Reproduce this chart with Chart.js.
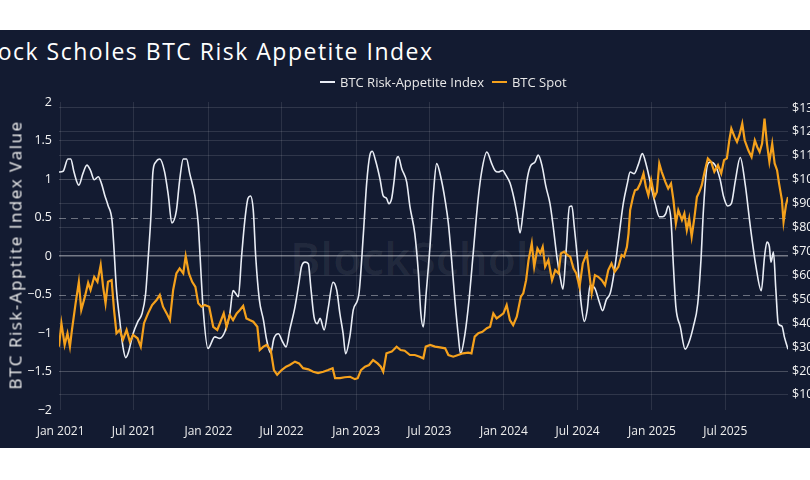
<!DOCTYPE html>
<html lang="en">
<head>
    <meta charset="UTF-8">
    <title>BTC Risk Appetite Index</title>
    <style>
        body {
            margin: 0;
            width: 810px;
            height: 480px;
            background: #ffffff;
            overflow: hidden;
            font-family: 'Open Sans', sans-serif;
        }
        .panel {
            position: absolute;
            top: 30px;
            left: 0;
            width: 810px;
            height: 418px;
            background: #131b31;
            overflow: hidden;
        }
        .title {
            position: absolute;
            top: 5px;
            left: -26px;
            margin: 0;
            font-size: 23px;
            font-weight: 500;
            letter-spacing: 1.5px;
            color: #ffffff;
            white-space: nowrap;
        }
        .ytitle {
            position: absolute;
            left: 15px;
            top: 225px;
            transform: translate(-50%, -50%) rotate(-90deg);
            font-size: 17px;
            letter-spacing: 1.5px;
            color: #eeeeee;
            white-space: nowrap;
        }
        .legend {
            position: absolute;
            top: 43px;
            left: 320px;
            display: flex;
            gap: 8px;
            font-size: 13px;
            color: #e8e8e8;
            white-space: nowrap;
        }
        .legend span.item {
            display: flex;
            align-items: center;
        }
        .legend span.swatch {
            display: inline-block;
            width: 15px;
            height: 2px;
            margin-right: 5px;
        }
        .watermark {
            position: absolute;
            top: 196px;
            left: 290px;
            font-size: 46px;
            font-weight: 600;
            color: rgba(255, 255, 255, 0.07);
            white-space: nowrap;
        }
        canvas {
            position: absolute;
            top: 0;
            left: 0;
        }
    </style>
</head>
<body>
    <div class="panel">
        <h1 class="title">Block Scholes BTC Risk Appetite Index</h1>
        <div class="watermark">BlockScholes</div>
        <canvas id="chart" width="860" height="418"></canvas>
        <div class="ytitle">BTC Risk-Apptite Index Value</div>
        <div class="legend" id="legend"></div>
    </div>

    <script src="https://cdn.jsdelivr.net/npm/chart.js"></script>
    <script>
        // BTC Risk-Appetite Index (left axis)
        const idxDates = [
            '2020-12-28','2021-01-07','2021-01-19','2021-01-26','2021-02-03','2021-02-15','2021-02-25','2021-03-07',
            '2021-03-16','2021-03-25','2021-04-04','2021-04-12','2021-04-20','2021-04-28','2021-05-08','2021-05-13',
            '2021-05-19','2021-05-27','2021-06-04','2021-06-11','2021-06-17','2021-06-29','2021-07-11','2021-07-21',
            '2021-07-30','2021-08-05','2021-08-12','2021-08-17','2021-08-24','2021-09-03','2021-09-15','2021-09-24',
            '2021-10-03','2021-10-14','2021-10-22','2021-10-31','2021-11-08','2021-11-16','2021-11-29','2021-12-07',
            '2021-12-11','2021-12-19','2021-12-31','2022-01-17','2022-01-29','2022-02-11','2022-02-23','2022-03-03',
            '2022-03-10','2022-03-16','2022-03-24','2022-04-01','2022-04-09','2022-04-15','2022-04-22','2022-04-28',
            '2022-05-07','2022-05-17','2022-05-25','2022-06-04','2022-06-12','2022-06-23','2022-07-03','2022-07-12',
            '2022-07-21','2022-08-03','2022-08-13','2022-08-19','2022-08-28','2022-09-05','2022-09-11','2022-09-19',
            '2022-09-27','2022-10-04','2022-10-14','2022-10-24','2022-11-05','2022-11-14','2022-11-22','2022-11-30',
            '2022-12-06','2022-12-17','2022-12-25','2023-01-08','2023-01-19','2023-01-27','2023-02-04','2023-02-10',
            '2023-02-18','2023-03-01','2023-03-09','2023-03-17','2023-03-23','2023-03-30','2023-04-05','2023-04-11',
            '2023-04-15','2023-04-24','2023-05-06','2023-05-14','2023-05-26','2023-06-04','2023-06-10','2023-06-16',
            '2023-06-23','2023-07-03','2023-07-11','2023-07-19','2023-07-31','2023-08-09','2023-08-17','2023-08-25',
            '2023-09-02','2023-09-10','2023-09-16','2023-09-27','2023-10-07','2023-10-18','2023-10-29','2023-11-07',
            '2023-11-20','2023-12-02','2023-12-10','2023-12-18','2023-12-29','2024-01-06','2024-01-16','2024-01-26',
            '2024-02-03','2024-02-10','2024-02-18','2024-02-27','2024-03-06','2024-03-18','2024-03-26','2024-04-04',
            '2024-04-14','2024-04-24','2024-05-02','2024-05-11','2024-05-19','2024-05-26','2024-06-03','2024-06-11',
            '2024-06-17','2024-06-23','2024-07-01','2024-07-09','2024-07-18','2024-07-25','2024-08-01','2024-08-13',
            '2024-08-24','2024-09-01','2024-09-10','2024-09-20','2024-09-29','2024-10-10','2024-10-22','2024-11-01',
            '2024-11-08','2024-11-18','2024-11-29','2024-12-08','2024-12-19','2024-12-30','2025-01-09','2025-01-19',
            '2025-01-27','2025-02-04','2025-02-10','2025-02-17','2025-02-23','2025-03-01','2025-03-12','2025-03-24',
            '2025-04-03','2025-04-13','2025-04-24','2025-05-02','2025-05-08','2025-05-17','2025-05-25','2025-06-06',
            '2025-06-18','2025-06-27','2025-07-07','2025-07-16','2025-07-26','2025-08-07','2025-08-19','2025-09-01',
            '2025-09-15','2025-09-28','2025-10-06','2025-10-12','2025-10-18','2025-10-22','2025-10-28','2025-11-03',
            '2025-11-09','2025-11-18','2025-11-24','2025-12-03'
        ];
        const idxValues = [
            1.09, 1.10, 1.26, 1.26, 1.09, 0.92, 1.07, 1.18,
            1.11, 0.99, 1.03, 0.94, 0.79, 0.66, 0.46, 0.08,
            -0.44, -0.83, -1.18, -1.32, -1.26, -1.01, -0.85, -0.75,
            -0.49, -0.05, 0.51, 1.09, 1.22, 1.26, 1.09, 0.79,
            0.43, 0.59, 0.98, 1.26, 1.26, 1.07, 0.77, 0.42,
            0.05, -0.68, -1.20, -1.05, -1.07, -0.98, -0.75, -0.45,
            -0.49, -0.53, -0.01, 0.46, 0.75, 0.78, 0.59, -0.01,
            -0.57, -0.83, -1.09, -1.26, -1.07, -1.01, -1.11, -1.18,
            -0.96, -0.66, -0.34, -0.14, -0.08, -0.10, -0.40, -0.79,
            -0.88, -0.81, -0.96, -0.68, -0.34, -0.44, -0.75, -1.01,
            -1.27, -1.03, -0.70, -0.49, 0.29, 0.94, 1.31, 1.36,
            1.24, 1.00, 0.78, 0.75, 0.68, 0.75, 0.98, 1.26,
            1.29, 1.13, 0.96, 0.64, 0.29, -0.23, -0.75, -0.92,
            -0.49, 0.16, 0.81, 1.20, 0.98, 0.72, 0.42, -0.05,
            -0.57, -1.01, -1.27, -1.01, -0.57, 0.08, 0.72, 1.09,
            1.35, 1.20, 1.11, 1.09, 1.11, 1.05, 0.95, 0.75,
            0.53, 0.30, 0.59, 0.98, 1.16, 1.22, 1.31, 1.18,
            0.90, 0.68, 0.38, -0.01, -0.27, -0.43, 0.08, 0.64,
            0.65, 0.38, -0.05, -0.57, -0.85, -0.70, -0.38, -0.42,
            -0.60, -0.71, -0.57, -0.48, -0.23, 0.20, 0.68, 0.94,
            1.09, 1.07, 1.20, 1.33, 1.16, 0.90, 0.68, 0.51,
            0.51, 0.55, 0.65, 0.46, -0.14, -0.66, -0.92, -1.21,
            -1.11, -0.92, -0.62, -0.05, 0.59, 1.16, 1.22, 1.18,
            1.00, 0.77, 0.65, 0.68, 0.98, 1.28, 0.94, 0.38,
            -0.14, -0.45, -0.01, 0.18, 0.12, -0.08, 0.05, -0.44,
            -0.88, -0.91, -1.05, -1.21
        ];

        // BTC Spot, thousands of USD (right axis)
        const spotDates = [
            '2020-12-28','2021-01-03','2021-01-11','2021-01-18','2021-01-24','2021-01-29','2021-02-07','2021-02-15',
            '2021-02-21','2021-03-02','2021-03-10','2021-03-16','2021-03-25','2021-04-02','2021-04-10','2021-04-16',
            '2021-04-22','2021-04-28','2021-05-07','2021-05-13','2021-05-19','2021-05-27','2021-06-04','2021-06-13',
            '2021-06-21','2021-06-29','2021-07-10','2021-07-18','2021-07-26','2021-08-05','2021-08-15','2021-08-26',
            '2021-09-03','2021-09-11','2021-09-20','2021-09-28','2021-10-06','2021-10-14','2021-10-22','2021-10-31',
            '2021-11-06','2021-11-14','2021-11-22','2021-11-30','2021-12-07','2021-12-15','2021-12-23','2022-01-03',
            '2022-01-13','2022-01-23','2022-01-31','2022-02-08','2022-02-15','2022-02-23','2022-03-03','2022-03-12',
            '2022-03-20','2022-03-28','2022-04-05','2022-04-13','2022-04-22','2022-05-02','2022-05-08','2022-05-17',
            '2022-05-25','2022-06-04','2022-06-12','2022-06-20','2022-07-01','2022-07-12','2022-07-21','2022-08-03',
            '2022-08-13','2022-08-23','2022-09-05','2022-09-17','2022-09-29','2022-10-12','2022-10-24','2022-11-04',
            '2022-11-10','2022-11-22','2022-12-04','2022-12-17','2022-12-29','2023-01-05','2023-01-13','2023-01-23',
            '2023-02-02','2023-02-12','2023-02-23','2023-03-03','2023-03-09','2023-03-17','2023-03-30','2023-04-11',
            '2023-04-21','2023-05-01','2023-05-14','2023-05-26','2023-06-07','2023-06-16','2023-06-22','2023-07-03',
            '2023-07-15','2023-07-27','2023-08-09','2023-08-17','2023-08-29','2023-09-10','2023-09-22','2023-10-05',
            '2023-10-13','2023-10-21','2023-10-30','2023-11-09','2023-11-20','2023-11-28','2023-12-06','2023-12-14',
            '2023-12-22','2023-12-31','2024-01-08','2024-01-16','2024-01-24','2024-02-02','2024-02-12','2024-02-18',
            '2024-02-25','2024-03-02','2024-03-10','2024-03-16','2024-03-24','2024-03-31','2024-04-06','2024-04-12',
            '2024-04-20','2024-04-29','2024-05-07','2024-05-15','2024-05-21','2024-05-29','2024-06-06','2024-06-13',
            '2024-06-21','2024-06-28','2024-07-06','2024-07-14','2024-07-24','2024-07-30','2024-08-05','2024-08-13',
            '2024-08-21','2024-08-30','2024-09-07','2024-09-15','2024-09-23','2024-10-01','2024-10-10','2024-10-18',
            '2024-10-24','2024-10-31','2024-11-04','2024-11-08','2024-11-15','2024-11-20','2024-11-26','2024-12-03',
            '2024-12-11','2024-12-17','2024-12-23','2024-12-30','2025-01-07','2025-01-13','2025-01-19','2025-01-25',
            '2025-02-03','2025-02-10','2025-02-17','2025-02-23','2025-03-01','2025-03-07','2025-03-16','2025-03-22',
            '2025-03-28','2025-04-03','2025-04-09','2025-04-16','2025-04-22','2025-04-28','2025-05-04','2025-05-11',
            '2025-05-19','2025-05-27','2025-06-04','2025-06-13','2025-06-21','2025-06-28','2025-07-05','2025-07-11',
            '2025-07-16','2025-07-24','2025-07-30','2025-08-05','2025-08-12','2025-08-18','2025-08-27','2025-09-04',
            '2025-09-12','2025-09-18','2025-09-24','2025-09-30','2025-10-06','2025-10-12','2025-10-18','2025-10-25',
            '2025-10-31','2025-11-06','2025-11-11','2025-11-18','2025-11-22','2025-11-28','2025-12-03'
        ];
        const spotValues = [
            30.2, 40.0, 30.9, 35.8, 30.2, 37.2, 48.3, 57.3,
            45.5, 51.1, 56.9, 53.9, 59.4, 57.3, 64.3, 55.2,
            48.3, 57.3, 58.0, 45.5, 35.8, 37.2, 33.0, 37.2,
            32.3, 35.1, 33.7, 30.2, 40.0, 44.1, 47.6, 49.7,
            51.8, 46.9, 44.1, 41.3, 53.9, 60.8, 62.9, 60.8,
            68.1, 60.8, 57.3, 55.2, 48.3, 46.9, 47.6, 46.9,
            38.5, 37.2, 40.6, 44.1, 38.5, 43.4, 41.3, 44.1,
            45.5, 47.2, 42.0, 41.3, 40.6, 38.5, 28.8, 30.2,
            30.9, 28.8, 20.4, 18.4, 20.4, 21.8, 22.5, 23.9,
            23.2, 21.2, 20.7, 19.7, 19.1, 19.7, 20.4, 21.2,
            17.0, 17.0, 17.4, 17.6, 16.6, 17.0, 20.4, 21.8,
            22.5, 24.6, 23.2, 21.8, 19.7, 27.4, 28.1, 30.2,
            28.8, 28.5, 26.7, 26.7, 26.0, 25.3, 30.2, 30.9,
            30.2, 29.9, 29.5, 26.7, 26.0, 26.7, 27.4, 27.7,
            27.4, 34.4, 35.8, 36.4, 37.9, 38.5, 44.1, 42.0,
            43.0, 44.1, 47.6, 41.3, 39.2, 42.7, 51.1, 52.5,
            58.0, 66.4, 73.4, 63.6, 71.3, 69.2, 71.9, 63.6,
            66.4, 58.0, 62.2, 60.8, 69.2, 69.9, 68.5, 67.8,
            62.9, 60.8, 55.2, 65.0, 69.2, 60.8, 52.5, 60.1,
            59.4, 58.0, 55.9, 62.2, 65.0, 61.5, 63.6, 68.5,
            67.8, 71.9, 77.5, 87.3, 92.8, 95.6, 96.0, 98.4,
            102.6, 97.0, 93.5, 99.8, 92.8, 94.9, 106.8, 103.3,
            99.1, 96.3, 98.4, 91.5, 81.7, 87.3, 83.1, 85.9,
            78.9, 83.8, 76.1, 84.5, 92.8, 94.9, 97.7, 103.3,
            108.9, 107.5, 103.3, 106.1, 102.6, 108.2, 108.9, 116.5,
            121.4, 117.9, 115.8, 118.6, 123.5, 116.5, 112.3, 109.5,
            116.5, 113.7, 111.6, 115.1, 125.6, 115.1, 107.5, 115.1,
            106.8, 104.0, 98.4, 91.5, 82.4, 89.4, 92.8
        ];

        const xTickDates = ['2021-01-01', '2021-07-01', '2022-01-01', '2022-07-01', '2023-01-01',
                            '2023-07-01', '2024-01-01', '2024-07-01', '2025-01-01', '2025-07-01'];
        const xTickLabels = ['Jan 2021', 'Jul 2021', 'Jan 2022', 'Jul 2022', 'Jan 2023',
                             'Jul 2023', 'Jan 2024', 'Jul 2024', 'Jan 2025', 'Jul 2025'];
        const indexTicks = [-2, -1.5, -1, -0.5, 0, 0.5, 1, 1.5, 2];
        const spotTicks = [10, 20, 30, 40, 50, 60, 70, 80, 90, 100, 110, 120, 130];
        const dashedLevels = [0.5, -0.5];

        const WHITE = '#e9edf5';
        const ORANGE = '#f5a11c';
        const GRID = 'rgba(255,255,255,0.12)';

        // days since 2021-01-01
        function dayOf(s) {
            const p = s.split('-').map(Number);
            return (Date.UTC(p[0], p[1] - 1, p[2]) - Date.UTC(2021, 0, 1)) / 86400000;
        }

        const idxPoints = idxDates.map((d, i) => ({ x: dayOf(d), y: idxValues[i] }));
        const spotPoints = spotDates.map((d, i) => ({ x: dayOf(d), y: spotValues[i] }));

        // dashed reference lines at +/-0.5
        const dashedLines = {
            id: 'dashedLines',
            beforeDatasetsDraw(chart) {
                const { ctx, chartArea, scales } = chart;
                ctx.save();
                ctx.strokeStyle = 'rgba(255,255,255,0.38)';
                ctx.lineWidth = 1;
                ctx.setLineDash([7, 5]);
                dashedLevels.forEach(v => {
                    const y = Math.round(scales.y.getPixelForValue(v)) + 0.5;
                    ctx.beginPath();
                    ctx.moveTo(chartArea.left, y);
                    ctx.lineTo(chartArea.right, y);
                    ctx.stroke();
                });
                ctx.restore();
            }
        };

        Chart.defaults.font.family = "'Open Sans', sans-serif";
        Chart.defaults.color = '#eeeeee';

        const chart = new Chart(document.getElementById('chart'), {
            type: 'line',
            data: {
                datasets: [
                    {
                        label: 'BTC Risk-Appetite Index',
                        data: idxPoints,
                        yAxisID: 'y',
                        borderColor: WHITE,
                        borderWidth: 1.6,
                        pointRadius: 0,
                        cubicInterpolationMode: 'monotone',
                        order: 1
                    },
                    {
                        label: 'BTC Spot',
                        data: spotPoints,
                        yAxisID: 'y1',
                        borderColor: ORANGE,
                        borderWidth: 2.2,
                        pointRadius: 0,
                        tension: 0,
                        order: 0
                    }
                ]
            },
            options: {
                responsive: false,
                animation: false,
                events: [],
                layout: { padding: { top: 72, left: 0, right: 0, bottom: 0 } },
                plugins: {
                    legend: { display: false },
                    tooltip: { enabled: false }
                },
                scales: {
                    x: {
                        type: 'linear',
                        min: dayOf(idxDates[0]),
                        max: dayOf(idxDates[idxDates.length - 1]),
                        afterBuildTicks: s => { s.ticks = xTickDates.map(d => ({ value: dayOf(d) })); },
                        afterFit: s => { s.height = 38; },
                        grid: { color: 'rgba(255,255,255,0.1)', drawTicks: false },
                        border: { display: false },
                        ticks: {
                            autoSkip: false,
                            maxRotation: 0,
                            padding: 14,
                            font: { size: 12 },
                            callback: (v, i) => xTickLabels[i]
                        }
                    },
                    y: {
                        position: 'left',
                        min: -2,
                        max: 2,
                        afterBuildTicks: s => { s.ticks = indexTicks.map(v => ({ value: v })); },
                        afterFit: s => { s.width = 59; },
                        grid: {
                            drawTicks: false,
                            color: c => {
                                const v = c.tick.value;
                                if (v === 0) return 'rgba(255,255,255,0.42)';
                                if (Math.abs(v) === 0.5 || Math.abs(v) === 2) return 'rgba(0,0,0,0)';
                                return GRID;
                            },
                            lineWidth: c => (c.tick.value === 0 ? 1.5 : 1)
                        },
                        border: { display: false },
                        ticks: {
                            padding: 7,
                            font: { size: 12.5 },
                            color: '#f4f4f4',
                            callback: v => String(v).replace('-', '\u2212')
                        }
                    },
                    y1: {
                        position: 'right',
                        min: 3.7,
                        max: 132.5,
                        afterBuildTicks: s => { s.ticks = spotTicks.map(v => ({ value: v })); },
                        afterFit: s => { s.width = 72; },
                        grid: { color: GRID, drawTicks: false },
                        border: { display: false },
                        ticks: {
                            padding: 4,
                            font: { size: 12.5 },
                            color: '#f4f4f4',
                            callback: v => '$' + v + 'k'
                        }
                    }
                }
            },
            plugins: [dashedLines]
        });

        // legend built from the chart's datasets
        const legend = document.getElementById('legend');
        chart.data.datasets.forEach(ds => {
            const item = document.createElement('span');
            item.className = 'item';
            item.innerHTML = `<span class="swatch" style="background:${ds.borderColor}"></span>${ds.label}`;
            legend.appendChild(item);
        });
    </script>
</body>
</html>
